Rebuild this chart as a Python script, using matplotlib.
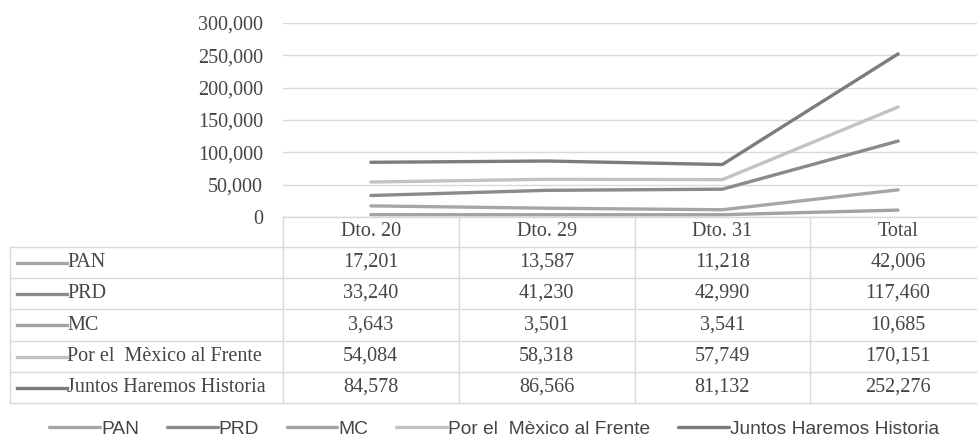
import matplotlib
matplotlib.use("Agg")
import matplotlib.pyplot as plt

categories = ["Dto. 20", "Dto. 29", "Dto. 31", "Total"]
series_names = ["PAN", "PRD", "MC", "Por el  Mèxico al Frente", "Juntos Haremos Historia"]
pan = [17201, 13587, 11218, 42006]
prd = [33240, 41230, 42990, 117460]
mc = [3643, 3501, 3541, 10685]
por_mexico = [54084, 58318, 57749, 170151]
juntos = [84578, 86566, 81132, 252276]
series_values = [pan, prd, mc, por_mexico, juntos]
colors = ["#a6a6a6", "#8a8a8a", "#a3a3a3", "#c2c2c2", "#7c7c7c"]
yticks = [0, 50000, 100000, 150000, 200000, 250000, 300000]

W, H = 977, 441
fig = plt.figure(figsize=(W / 100, H / 100), dpi=100)
serif = ["Liberation Serif", "DejaVu Serif"]
narrow = ["Liberation Sans Narrow", "Liberation Sans", "DejaVu Sans"]
txt_color = "#454545"
fs = 14.5

# plot area in pixels
x0, x1 = 283, 986
ytop, ybot = 23, 217
ax = fig.add_axes([x0 / W, 1 - ybot / H, (x1 - x0) / W, (ybot - ytop) / H])
xs = list(range(len(categories)))
handles = []
for name, vals, c in zip(series_names, series_values, colors):
    ln, = ax.plot(xs, vals, color=c, lw=2.4, solid_capstyle="round")
    handles.append(ln)
ax.set_xlim(-0.5, len(categories) - 0.5)
ax.set_ylim(0, 300000)
ax.set_yticks(yticks)
ax.set_yticklabels([f"{v:,}" for v in yticks], family=serif, fontsize=fs, color=txt_color)
ax.tick_params(axis="y", length=0, pad=14.5)
ax.set_xticks([])
ax.grid(axis="y", color="#d9d9d9", lw=1)
ax.set_axisbelow(True)
for s in ax.spines.values():
    s.set_visible(False)

# table overlay in pixel coordinates
tab = fig.add_axes([0, 0, 1, 1])
tab.set_xlim(0, W)
tab.set_ylim(H, 0)
tab.axis("off")
gc = "#d9d9d9"
col_w = (x1 - x0) / len(categories)
left = 10
row_tops = [217, 247, 278, 309, 341, 372, 403]
tab.plot([x0, x1], [217, 217], color=gc, lw=1)
for i in range(len(categories) + 1):
    xv = x0 + i * col_w
    tab.plot([xv, xv], [217, 403], color=gc, lw=1)
for i, cat in enumerate(categories):
    tab.text(x0 + (i + 0.5) * col_w, 231, cat, ha="center", va="center",
             family=serif, fontsize=fs, color=txt_color)
for r in range(len(series_names) + 1):
    yv = row_tops[r + 1]
    tab.plot([left, x1], [yv, yv], color=gc, lw=1)
tab.plot([left, left], [247, 403], color=gc, lw=1)
for r, (name, vals, c) in enumerate(zip(series_names, series_values, colors)):
    yc = (row_tops[r + 1] + row_tops[r + 2]) / 2
    tab.plot([17, 67], [yc, yc], color=c, lw=2.4)
    tab.text(67, yc, name, ha="left", va="center", family=serif, fontsize=fs, color=txt_color)
    for i, v in enumerate(vals):
        tab.text(x0 + (i + 0.5) * col_w, yc, f"{v:,}", ha="center", va="center",
                 family=serif, fontsize=fs, color=txt_color)

leg = fig.legend(handles, series_names, loc="center", bbox_to_anchor=(494 / W, 1 - 429 / H),
                 ncol=5, frameon=False, handlelength=2.65, handletextpad=0.05, columnspacing=1.45,
                 borderpad=0, borderaxespad=0, prop={"family": narrow, "size": 13.8})
for t in leg.get_texts():
    t.set_color(txt_color)

fig.savefig("out.png", dpi=100)
